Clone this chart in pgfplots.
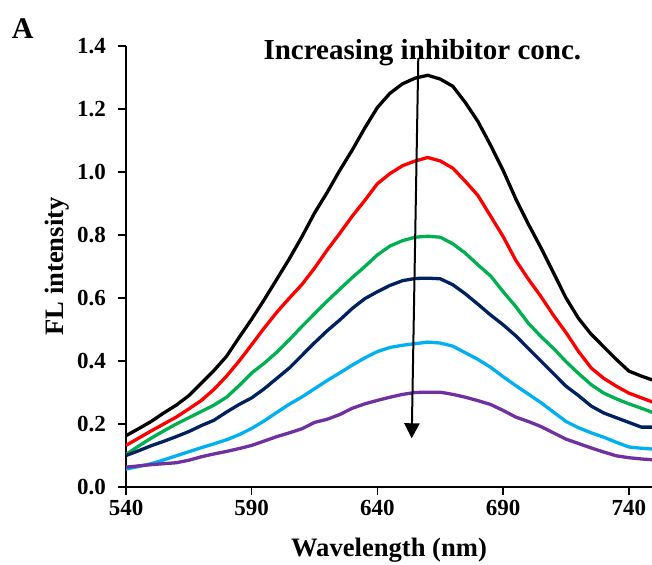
\documentclass[border=0pt]{standalone}
\usepackage{fontspec}
\setmainfont{Liberation Serif}
\usepackage{pgfplots}
\pgfplotsset{compat=1.18}
\usepackage{pgfplotstable}
\usetikzlibrary{arrows.meta}

\definecolor{sred}{HTML}{FF0000}
\definecolor{sgreen}{HTML}{00B050}
\definecolor{snavy}{HTML}{002060}
\definecolor{scyan}{HTML}{00B0F0}
\definecolor{spurple}{HTML}{7030A0}

% wavelength (nm) vs FL intensity, one column per inhibitor concentration
\pgfplotstableread{
wl   c0    c1    c2    c3    c4    c5
540 0.163 0.132 0.103 0.100 0.057 0.063
545 0.185 0.155 0.130 0.115 0.065 0.067
550 0.208 0.178 0.155 0.131 0.074 0.071
555 0.235 0.200 0.178 0.145 0.086 0.074
560 0.260 0.222 0.200 0.160 0.099 0.077
565 0.290 0.248 0.220 0.176 0.112 0.085
570 0.330 0.275 0.240 0.195 0.125 0.096
575 0.370 0.310 0.260 0.212 0.137 0.105
580 0.415 0.352 0.285 0.238 0.150 0.113
585 0.475 0.400 0.322 0.262 0.166 0.122
590 0.533 0.452 0.362 0.283 0.186 0.132
595 0.595 0.505 0.393 0.312 0.210 0.146
600 0.660 0.555 0.428 0.345 0.237 0.160
605 0.725 0.600 0.468 0.378 0.263 0.172
610 0.795 0.643 0.510 0.418 0.286 0.185
615 0.870 0.695 0.550 0.458 0.312 0.205
620 0.935 0.752 0.590 0.496 0.338 0.215
625 1.005 0.805 0.628 0.530 0.362 0.230
630 1.070 0.860 0.665 0.567 0.387 0.250
635 1.140 0.910 0.700 0.598 0.410 0.264
640 1.205 0.963 0.737 0.620 0.430 0.275
645 1.250 0.995 0.765 0.640 0.443 0.285
650 1.280 1.020 0.782 0.655 0.450 0.294
655 1.298 1.035 0.793 0.662 0.455 0.300
660 1.307 1.046 0.796 0.663 0.460 0.301
665 1.295 1.035 0.793 0.661 0.457 0.301
670 1.272 1.012 0.772 0.642 0.447 0.294
675 1.220 0.970 0.742 0.613 0.426 0.285
680 1.160 0.925 0.705 0.580 0.405 0.274
685 1.085 0.860 0.670 0.546 0.380 0.262
690 1.005 0.795 0.620 0.515 0.350 0.243
695 0.915 0.720 0.573 0.480 0.322 0.222
700 0.835 0.660 0.520 0.440 0.295 0.208
705 0.760 0.605 0.478 0.400 0.268 0.192
710 0.680 0.545 0.440 0.360 0.238 0.172
715 0.600 0.490 0.398 0.320 0.208 0.152
720 0.535 0.430 0.360 0.290 0.188 0.138
725 0.485 0.378 0.325 0.257 0.172 0.124
730 0.445 0.345 0.298 0.235 0.158 0.111
735 0.405 0.320 0.280 0.220 0.142 0.099
740 0.368 0.298 0.264 0.205 0.127 0.093
745 0.352 0.283 0.250 0.190 0.123 0.089
750 0.338 0.268 0.235 0.190 0.120 0.086
}\spectra

\begin{document}
\begin{tikzpicture}
\useasboundingbox (0,0) rectangle (652bp,565bp);
\begin{axis}[
  at={(126bp,78bp)}, anchor=south west,
  scale only axis, width=526bp, height=441bp,
  xmin=540, xmax=749.2, ymin=0, ymax=1.4,
  axis x line=bottom, axis y line=left,
  axis line style={-, line width=1.6bp},
  every tick/.style={black, line width=1.4bp},
  tick align=outside, major tick length=8bp,
  xtick={540,590,640,690,740},
  ytick={0,0.2,...,1.4},
  /pgf/number format/assume math mode=true,
  yticklabel style={/pgf/number format/fixed, /pgf/number format/fixed zerofill, /pgf/number format/precision=1},
  xticklabel style={/pgf/number format/1000 sep={}},
  ticklabel style={font=\fontsize{23bp}{26bp}\selectfont\bfseries},
  xticklabel style={anchor=base, yshift=-20bp},
  yticklabel style={anchor=east, inner sep=0pt, xshift=-12bp},
  xlabel={Wavelength (nm)},
  ylabel={FL intensity},
  label style={font=\fontsize{26.6bp}{30bp}\selectfont\bfseries},
  xlabel style={at={(axis description cs:0.5,-0.1565)}, anchor=base},
  ylabel style={at={(axis description cs:-0.1179,0.5)}, anchor=base},
  every axis plot/.append style={line width=3.3bp, line join=round, no markers},
]
\addplot[black]   table[x=wl, y=c0] {\spectra};
\addplot[sred]    table[x=wl, y=c1] {\spectra};
\addplot[sgreen]  table[x=wl, y=c2] {\spectra};
\addplot[snavy]   table[x=wl, y=c3] {\spectra};
\addplot[scyan]   table[x=wl, y=c4] {\spectra};
\addplot[spurple] table[x=wl, y=c5] {\spectra};
\end{axis}
\node[anchor=base west, inner sep=0pt, font=\fontsize{29bp}{32bp}\selectfont\bfseries]
  at (263.3bp,505.7bp) {Increasing inhibitor conc.};
\draw[line width=2bp, -{Triangle[width=15bp,length=15bp]}]
  (418.3bp,507bp) -- (411.7bp,126.7bp);
\node[anchor=base west, inner sep=0pt, font=\fontsize{30bp}{33bp}\selectfont\bfseries]
  at (11.7bp,526.7bp) {A};
\end{tikzpicture}
\end{document}
